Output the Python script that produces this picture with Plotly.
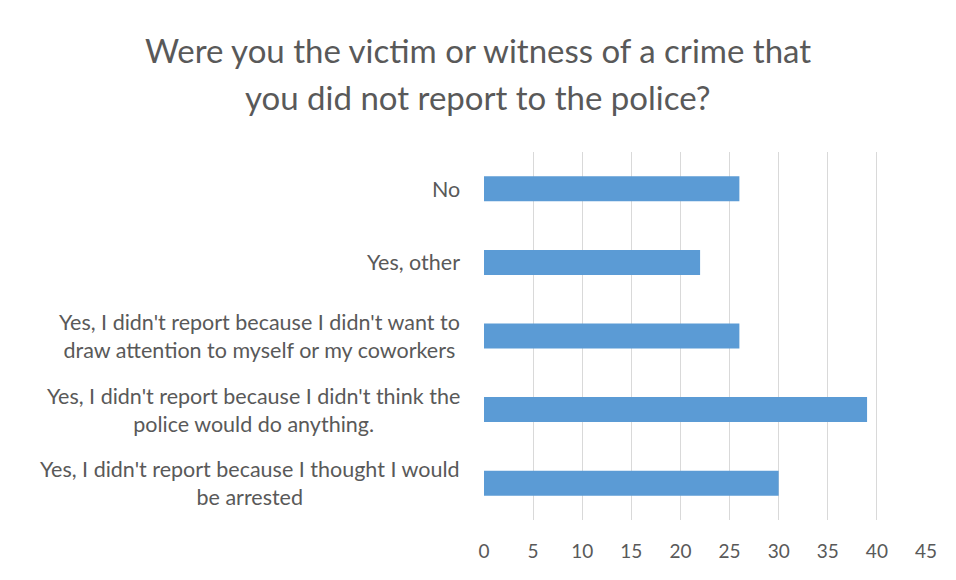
import plotly.graph_objects as go

# Survey responses, top to bottom as they appear on the chart
categories = [
    "No",
    "Yes, other",
    "Yes, I didn't report because I didn't want to<br>draw attention to myself or my coworkers",
    "Yes, I didn't report because I didn't think the<br>police would do anything.",
    "Yes, I didn't report because I thought I would<br>be arrested",
]
counts = [26, 22, 26, 39, 30]
x_ticks = [0, 5, 10, 15, 20, 25, 30, 35, 40, 45]
title_lines = [
    "Were you the victim or witness of a crime that",
    "you did not report to the police?",
]

TEXT = "#595959"
FONT = "Lato"

fig = go.Figure(
    go.Bar(
        x=counts,
        y=categories,
        orientation="h",
        width=0.34,
        marker=dict(color="#5b9bd5", line=dict(width=0)),
        hoverinfo="x+y",
    )
)

# Category labels: multi-line entries centred line-by-line, block right-aligned
annotations = [
    dict(
        x=-0.05, xref="paper", y=cat, yref="y",
        text=cat, showarrow=False,
        xanchor="right", yanchor="middle", align="center",
        font=dict(family=FONT, size=21.5, color=TEXT),
    )
    for cat in categories
]

# Two-line chart title
for yy, line in zip([1.277, 1.1495], title_lines):
    annotations.append(dict(
        x=-0.0136, xref="paper", y=yy, yref="paper",
        text=line, showarrow=False,
        xanchor="center", yanchor="middle",
        font=dict(family=FONT, size=33, color=TEXT),
    ))

fig.update_layout(
    width=956,
    height=580,
    margin=dict(l=484, r=30, t=152, b=60),
    paper_bgcolor="white",
    plot_bgcolor="white",
    showlegend=False,
    annotations=annotations,
    xaxis=dict(
        range=[0, 45],
        tickvals=x_ticks,
        ticktext=[str(v) for v in x_ticks],
        showgrid=True,
        gridcolor="#d9d9d9",
        gridwidth=1,
        zeroline=False,
        showline=False,
        ticks="",
        ticklabelstandoff=18,
        tickfont=dict(family=FONT, size=19, color=TEXT),
        fixedrange=True,
    ),
    yaxis=dict(
        categoryorder="array",
        categoryarray=categories,
        autorange="reversed",
        showticklabels=False,
        showgrid=False,
        zeroline=False,
        showline=False,
        ticks="",
        fixedrange=True,
    ),
)

fig.write_html("out.html")
